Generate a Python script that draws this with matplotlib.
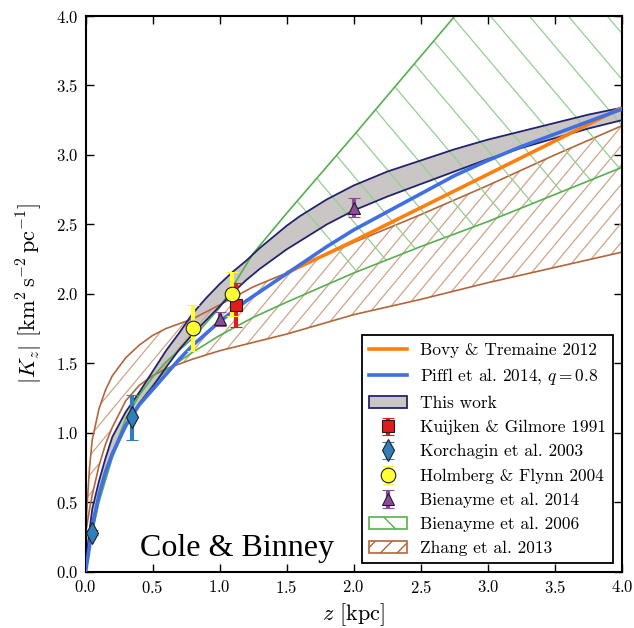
import matplotlib
matplotlib.use("Agg")
import matplotlib.pyplot as plt
from matplotlib.lines import Line2D
from matplotlib.patches import Patch
import numpy as np

plt.rcParams['font.family'] = 'serif'
plt.rcParams['font.serif'] = ['cmr10', 'DejaVu Serif']
plt.rcParams['mathtext.fontset'] = 'cm'
plt.rcParams['axes.unicode_minus'] = False
plt.rcParams['axes.formatter.use_mathtext'] = True
plt.rcParams['hatch.linewidth'] = 1.0

# --- This work: K_z band (lower / upper edges) ---
z_band = [0, 0.02, 0.05, 0.1, 0.15, 0.2, 0.3, 0.4, 0.5, 0.6, 0.7, 0.8, 0.9, 1.0,
          1.1, 1.2, 1.3, 1.4, 1.5, 1.6, 1.7, 1.8, 1.9, 2.0, 2.25, 2.5, 2.75, 3.0,
          3.25, 3.5, 3.75, 4.0]
band_hi = [0, 0.22, 0.45, 0.65, 0.82, 0.97, 1.15, 1.29, 1.44, 1.59, 1.72, 1.86, 1.97, 2.07,
           2.16, 2.24, 2.33, 2.41, 2.49, 2.56, 2.62, 2.68, 2.73, 2.78, 2.88, 2.96, 3.04, 3.11,
           3.17, 3.23, 3.29, 3.34]
band_lo = [0, 0.15, 0.35, 0.55, 0.72, 0.85, 1.06, 1.21, 1.33, 1.47, 1.60, 1.71, 1.81, 1.91,
           2.01, 2.10, 2.18, 2.25, 2.32, 2.38, 2.44, 2.50, 2.55, 2.60, 2.70, 2.79, 2.88, 2.97,
           3.05, 3.12, 3.19, 3.25]

# --- Piffl et al. 2014, q = 0.8 ---
z_piffl = [0, 0.02, 0.05, 0.1, 0.15, 0.2, 0.3, 0.4, 0.5, 0.6, 0.7, 0.8, 1.0, 1.2, 1.4,
           1.6, 1.8, 2.0, 2.25, 2.5, 2.75, 3.0, 3.25, 3.5, 3.75, 4.0]
k_piffl = [0, 0.12, 0.32, 0.55, 0.72, 0.85, 1.05, 1.20, 1.31, 1.42, 1.53, 1.63, 1.80, 1.95, 2.08,
           2.21, 2.34, 2.46, 2.59, 2.72, 2.85, 2.96, 3.06, 3.15, 3.24, 3.33]

# --- Bovy & Tremaine 2012 ---
z_bovy = [1.5, 2.0, 2.5, 3.0, 3.5, 4.0]
k_bovy = [2.15, 2.38, 2.62, 2.86, 3.10, 3.34]

# --- Bienayme et al. 2006 (hatched range) ---
z_b06 = [0, 0.05, 0.1, 0.2, 0.3, 0.4, 0.5, 0.6, 0.8, 1.0, 1.25, 1.5, 2.0, 2.5, 3.0, 4.0]
b06_hi = [0, 0.30, 0.52, 0.85, 1.10, 1.27, 1.40, 1.51, 1.68, 1.90, 2.29, 2.58, 3.14, 3.71, 4.28, 5.41]
b06_lo = [0, 0.28, 0.50, 0.82, 1.05, 1.21, 1.34, 1.45, 1.58, 1.70, 1.83, 1.94, 2.15, 2.34, 2.52, 2.91]

# --- Zhang et al. 2013 (hatched range) ---
z_zhang = [0, 0.01, 0.03, 0.05, 0.1, 0.15, 0.2, 0.3, 0.4, 0.5, 0.6, 0.8, 1.0, 1.25, 1.5,
           2.0, 2.5, 3.0, 3.5, 4.0]
zhang_hi = [0.30, 0.45, 0.75, 0.95, 1.17, 1.31, 1.41, 1.54, 1.63, 1.70, 1.75, 1.82, 1.92, 2.05, 2.15,
            2.37, 2.57, 2.78, 3.00, 3.21]
zhang_lo = [0.28, 0.33, 0.45, 0.55, 0.76, 0.92, 1.04, 1.23, 1.34, 1.41, 1.46, 1.53, 1.59, 1.65, 1.71,
            1.85, 1.96, 2.08, 2.19, 2.30]

# --- measurements ---
kg_z, kg_k, kg_err = [1.12], [1.92], [0.16]
ko_z, ko_k, ko_err = [0.05, 0.35], [0.28, 1.11], [0.02, 0.16]
hf_z, hf_k, hf_err = [0.80, 1.09], [1.755, 2.00], [0.165, 0.16]
bi_z, bi_k, bi_err = [1.0, 2.0], [1.82, 2.62], [0.05, 0.07]

c_orange = '#ff7f0e'
c_blue = '#3f6fe3'
c_navy = '#23236e'
c_gray = '#cbc6c6'
c_green = '#55b04f'
c_green_h = '#93cf8f'
c_brown = '#b3663a'
c_brown_h = '#d0a488'


def hatch_region(ax, z, lo, hi, slope, offsets, line_color, hatch_color, zorder):
    """Fill a band with sparse straight hatch lines and draw its two edges."""
    poly = ax.fill_between(z, lo, hi, facecolor='none', edgecolor='none', zorder=zorder)
    path = poly.get_paths()[0]
    zz = np.array([-2.0, 6.0])
    for c in offsets:
        ln, = ax.plot(zz, 4.0 + slope * (zz - c), color=hatch_color, lw=0.9, zorder=zorder)
        ln.set_clip_path(path, ax.transData)
    ax.plot(z, lo, color=line_color, lw=1.2, zorder=zorder + 0.1)
    ax.plot(z, hi, color=line_color, lw=1.2, zorder=zorder + 0.1)


fig = plt.figure(figsize=(6.34, 6.28), dpi=100)
ax = fig.add_axes([0.1349, 0.0898, 0.846, 0.8847])

# band of this work
ax.fill_between(z_band, band_lo, band_hi, facecolor=c_gray, edgecolor='none', zorder=1)
ax.plot(z_band, band_lo, color=c_navy, lw=1.3, zorder=3.5)
ax.plot(z_band, band_hi, color=c_navy, lw=1.3, zorder=3.5)

# hatched literature ranges
hatch_region(ax, z_zhang, zhang_lo, zhang_hi, 1.16, np.arange(-3.0, 6.0, 0.12),
             c_brown, c_brown_h, 2.0)
hatch_region(ax, z_b06, b06_lo, b06_hi, -1.14, np.arange(0.41, 8.0, 0.29),
             c_green, c_green_h, 2.2)

# model curves
ax.plot(z_bovy, k_bovy, color=c_orange, lw=2.6, zorder=4, solid_capstyle='butt')
ax.plot(z_piffl, k_piffl, color=c_blue, lw=2.6, zorder=4.1)

# data points
eb = dict(elinewidth=3, capsize=4, capthick=3, mew=0.8, mec='#202020', zorder=6, ls='none')
e_kg = ax.errorbar(kg_z, kg_k, yerr=kg_err, marker='s', ms=9, color='#e41a1c', **eb)
e_ko = ax.errorbar(ko_z, ko_k, yerr=ko_err, marker='d', ms=11, color='#2f7fbc', **eb)
e_hf = ax.errorbar(hf_z, hf_k, yerr=hf_err, marker='o', ms=10.5, color='#ffff33', **eb)
e_bi = ax.errorbar(bi_z, bi_k, yerr=bi_err, marker='^', ms=9, color='#8e4b9e', **eb)

ax.text(0.101, 0.028, 'Cole & Binney', transform=ax.transAxes, fontsize=23,
        family='Liberation Serif', zorder=7)

ax.set_xlim(0, 4)
ax.set_ylim(0, 4)
ax.set_xticks(np.arange(0, 4.01, 0.5))
ax.set_yticks(np.arange(0, 4.01, 0.5))
ax.tick_params(direction='in', top=True, right=True, length=6, width=1,
               labelsize=12, pad=5)
for s in ax.spines.values():
    s.set_linewidth(1.5)

ax.set_xlabel(r'$z$ [kpc]', fontsize=16, labelpad=4)
ax.set_ylabel(r'$|K_z|$ [km$^2\,$s$^{-2}\,$pc$^{-1}$]', fontsize=16, labelpad=8)

handles = [
    Line2D([], [], color=c_orange, lw=2.6),
    Line2D([], [], color=c_blue, lw=2.6),
    Patch(facecolor=c_gray, edgecolor=c_navy, lw=1.3),
    e_kg, e_ko, e_hf, e_bi,
    Patch(facecolor='white', edgecolor=c_green, hatch='\\', lw=1.2),
    Patch(facecolor='white', edgecolor=c_brown, hatch='//', lw=1.2),
]
labels = [
    'Bovy & Tremaine 2012',
    r'Piffl et al. 2014, $q=0.8$',
    'This work',
    'Kuijken & Gilmore 1991',
    'Korchagin et al. 2003',
    'Holmberg & Flynn 2004',
    'Bienayme et al. 2014',
    'Bienayme et al. 2006',
    'Zhang et al. 2013',
]
leg = ax.legend(handles, labels, loc='lower right', fontsize=12.5, numpoints=1,
                handlelength=2.2, handletextpad=0.75, fancybox=False,
                framealpha=1, edgecolor='black', labelspacing=0.5)
leg.get_frame().set_linewidth(1.3)
leg.set_zorder(10)

fig.savefig('out.png', dpi=100)
